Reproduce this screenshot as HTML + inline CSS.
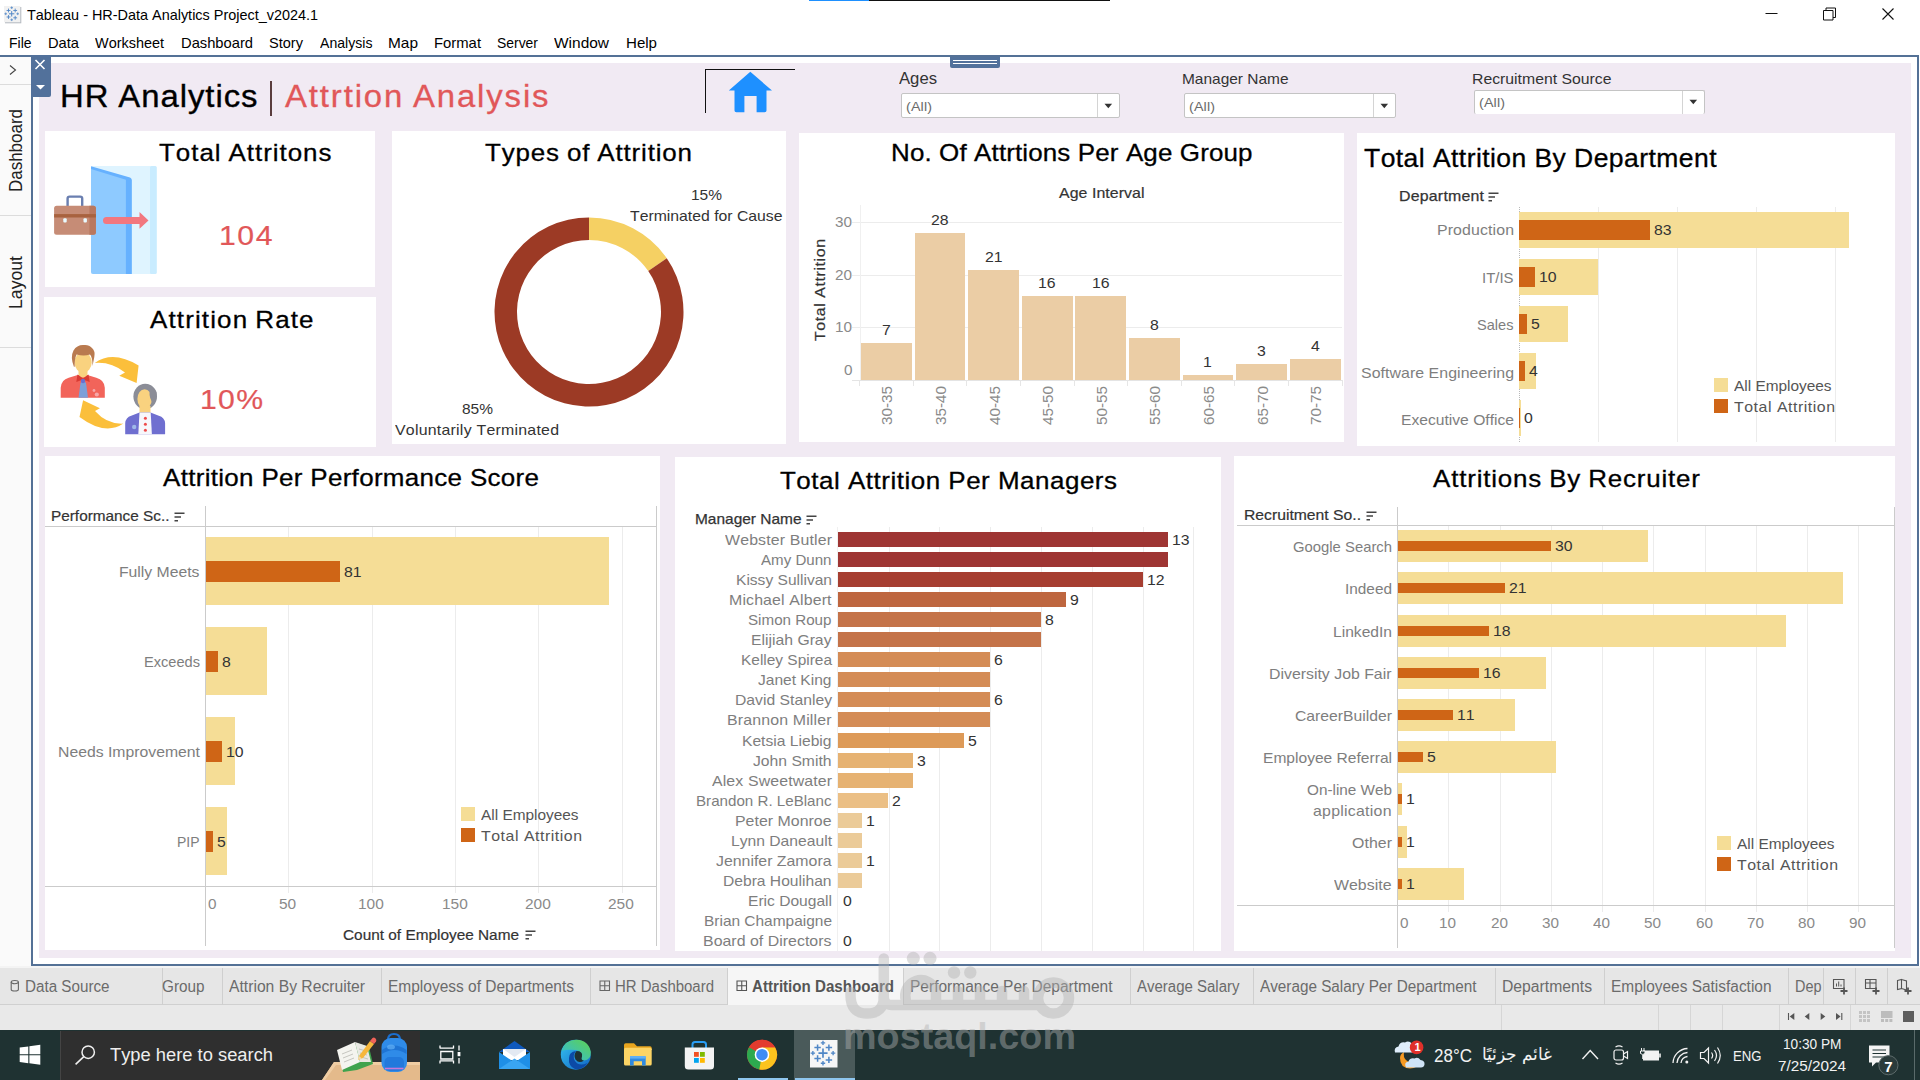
<!DOCTYPE html>
<html><head><meta charset="utf-8"><title>Tableau - HR-Data Analytics Project_v2024.1</title>
<style>
html,body{margin:0;padding:0;}
body{width:1920px;height:1080px;overflow:hidden;background:#fff;position:relative;font-family:"Liberation Sans",sans-serif;}
#r{position:absolute;left:0;top:0;width:1920px;height:1080px;overflow:hidden;}
#r div,#r svg,#r span.t{position:absolute;}
#r span.t{white-space:pre;line-height:1;transform-origin:0 0;font-kerning:none;}
</style></head><body><div id="r">
<span class="t" style="left:27.00px;top:7.30px;font-size:15px;color:#000;transform:scaleX(0.9615);">Tableau - HR-Data Analytics Project_v2024.1</span>
<div style="left:809px;top:0px;width:60px;height:1px;background:#1e90ff;"></div>
<div style="left:869px;top:0px;width:241px;height:1px;background:#111;"></div>
<svg style="left:1760px;top:4px;" width="140" height="22" viewBox="0 0 140 22"><path d="M5.5 9.5h12" stroke="#111" stroke-width="1" fill="none"/><path d="M63.5 6.5h9.5v9.5h-9.5z M66 6.5v-2.5h9.5v9.5h-2.5" stroke="#111" stroke-width="1" fill="none"/><path d="M122.5 4.5l11 11m0-11l-11 11" stroke="#111" stroke-width="1.1" fill="none"/></svg>
<span class="t" style="left:8.50px;top:35.30px;font-size:15px;color:#000;transform:scaleX(0.9309);">File</span>
<span class="t" style="left:47.50px;top:35.30px;font-size:15px;color:#000;transform:scaleX(0.9784);">Data</span>
<span class="t" style="left:95.00px;top:35.30px;font-size:15px;color:#000;transform:scaleX(0.9625);">Worksheet</span>
<span class="t" style="left:180.50px;top:35.30px;font-size:15px;color:#000;transform:scaleX(0.9812);">Dashboard</span>
<span class="t" style="left:269.00px;top:35.30px;font-size:15px;color:#000;transform:scaleX(0.9711);">Story</span>
<span class="t" style="left:319.50px;top:35.30px;font-size:15px;color:#000;transform:scaleX(0.9399);">Analysis</span>
<span class="t" style="left:388.00px;top:35.30px;font-size:15px;color:#000;transform:scaleX(1.0281);">Map</span>
<span class="t" style="left:434.00px;top:35.30px;font-size:15px;color:#000;transform:scaleX(0.9894);">Format</span>
<span class="t" style="left:497.00px;top:35.30px;font-size:15px;color:#000;transform:scaleX(0.9280);">Server</span>
<span class="t" style="left:554.00px;top:35.30px;font-size:15px;color:#000;transform:scaleX(1.0309);">Window</span>
<span class="t" style="left:625.50px;top:35.30px;font-size:15px;color:#000;transform:scaleX(1.0048);">Help</span>
<div style="left:0px;top:55px;width:1919px;height:2px;background:#547196;"></div>
<div style="left:31px;top:55px;width:2px;height:911px;background:#547196;"></div>
<div style="left:1917px;top:56px;width:2px;height:910px;background:#547196;"></div>
<div style="left:31px;top:964px;width:1888px;height:2px;background:#547196;"></div>
<div style="left:0px;top:57px;width:31px;height:909px;background:#fafafa;"></div>
<div style="left:0px;top:84px;width:31px;height:1px;background:#dcdcdc;"></div>
<div style="left:0px;top:214.5px;width:31px;height:1px;background:#dcdcdc;"></div>
<div style="left:0px;top:347px;width:31px;height:1px;background:#dcdcdc;"></div>
<svg style="left:7px;top:63px;" width="12" height="14" viewBox="0 0 12 14"><path d="M3 2.5l5.5 4.5l-5.5 4.5" stroke="#444" stroke-width="1.1" fill="none"/></svg>
<span class="t" style="left:7.69px;top:192.00px;font-size:17.5px;color:#222;transform:rotate(-90deg) scaleX(0.9695);">Dashboard</span>
<span class="t" style="left:7.69px;top:308.50px;font-size:17.5px;color:#222;transform:rotate(-90deg) scaleX(1.0087);">Layout</span>
<div style="left:39px;top:63px;width:1872px;height:895px;background:#f1eaf3;"></div>
<div style="left:31px;top:55px;width:20px;height:41.5px;background:#52719b;border-radius:0 0 2px 0;"></div>
<svg style="left:33px;top:57px;" width="16" height="38" viewBox="0 0 16 38"><path d="M2.5 3l9 9m0-9l-9 9" stroke="#fff" stroke-width="1.6" fill="none"/><path d="M3 28h9l-4.5 4.5z" fill="#fff"/></svg>
<div style="left:950px;top:57px;width:50px;height:11px;background:#52719b;border-radius:0 0 2px 2px;"></div>
<div style="left:953px;top:60px;width:44px;height:1.2px;background:#fff;"></div>
<div style="left:953px;top:63.3px;width:44px;height:1.2px;background:#fff;"></div>
<div style="left:0px;top:966px;width:1920px;height:39px;background:#e6e6e6;"></div>
<div style="left:0px;top:966px;width:1920px;height:1.5px;background:#f4f4f4;"></div>
<div style="left:0px;top:1004px;width:1920px;height:1px;background:#d0d0d0;"></div>
<div style="left:0px;top:1005px;width:1920px;height:25px;background:#e9e9e9;"></div>
<div style="left:728px;top:968px;width:175px;height:36.5px;background:#f6f6f6;"></div>
<div style="left:162px;top:968px;width:1px;height:36.5px;background:#cfcfcf;"></div>
<div style="left:222px;top:968px;width:1px;height:36.5px;background:#cfcfcf;"></div>
<div style="left:381px;top:968px;width:1px;height:36.5px;background:#cfcfcf;"></div>
<div style="left:590px;top:968px;width:1px;height:36.5px;background:#cfcfcf;"></div>
<div style="left:727px;top:968px;width:1px;height:36.5px;background:#cfcfcf;"></div>
<div style="left:903px;top:968px;width:1px;height:36.5px;background:#cfcfcf;"></div>
<div style="left:1130px;top:968px;width:1px;height:36.5px;background:#cfcfcf;"></div>
<div style="left:1253px;top:968px;width:1px;height:36.5px;background:#cfcfcf;"></div>
<div style="left:1495px;top:968px;width:1px;height:36.5px;background:#cfcfcf;"></div>
<div style="left:1604px;top:968px;width:1px;height:36.5px;background:#cfcfcf;"></div>
<div style="left:1788px;top:968px;width:1px;height:36.5px;background:#cfcfcf;"></div>
<div style="left:1823px;top:968px;width:1px;height:36.5px;background:#cfcfcf;"></div>
<div style="left:1855px;top:968px;width:1px;height:36.5px;background:#cfcfcf;"></div>
<div style="left:1887px;top:968px;width:1px;height:36.5px;background:#cfcfcf;"></div>
<span class="t" style="left:24.50px;top:979.46px;font-size:16px;color:#6b6b6b;transform:scaleX(0.9501);">Data Source</span>
<span class="t" style="left:162.00px;top:979.46px;font-size:16px;color:#6b6b6b;transform:scaleX(0.9557);">Group</span>
<span class="t" style="left:229.00px;top:979.46px;font-size:16px;color:#6b6b6b;transform:scaleX(0.9804);">Attrion By Recruiter</span>
<span class="t" style="left:387.50px;top:979.46px;font-size:16px;color:#6b6b6b;transform:scaleX(0.9683);">Employess of Departments</span>
<span class="t" style="left:615.00px;top:979.46px;font-size:16px;color:#6b6b6b;transform:scaleX(0.9355);">HR Dashboard</span>
<span class="t" style="left:910.00px;top:979.46px;font-size:16px;color:#6b6b6b;transform:scaleX(0.9690);">Performance Per Department</span>
<span class="t" style="left:1137.00px;top:979.46px;font-size:16px;color:#6b6b6b;transform:scaleX(0.9370);">Average Salary</span>
<span class="t" style="left:1260.00px;top:979.46px;font-size:16px;color:#6b6b6b;transform:scaleX(0.9547);">Average Salary Per Department</span>
<span class="t" style="left:1502.00px;top:979.46px;font-size:16px;color:#6b6b6b;transform:scaleX(0.9826);">Departments</span>
<span class="t" style="left:1611.00px;top:979.46px;font-size:16px;color:#6b6b6b;transform:scaleX(0.9651);">Employees Satisfaction</span>
<span class="t" style="left:1795.00px;top:979.46px;font-size:16px;color:#6b6b6b;transform:scaleX(0.9028);">Dep</span>
<span class="t" style="left:752.00px;top:978.96px;font-size:16px;color:#555;transform:scaleX(0.9453);font-weight:bold;">Attrition Dashboard</span>
<svg style="left:10px;top:979px;" width="11" height="14" viewBox="0 0 11 14"><path d="M1.2 3.1v7.3a3.6 1.6 0 0 0 7.2 0v-7.3" fill="none" stroke="#666" stroke-width="1.1"/><ellipse cx="4.8" cy="3.1" rx="3.6" ry="1.6" fill="none" stroke="#666" stroke-width="1.1"/></svg>
<svg style="left:598.5px;top:980px;" width="12" height="12" viewBox="0 0 12 12"><path d="M1 1h9.5v9.5h-9.5z M5.75 1v9.5 M1 5.75h9.5" fill="none" stroke="#666" stroke-width="1.1"/></svg>
<svg style="left:736px;top:980px;" width="12" height="12" viewBox="0 0 12 12"><path d="M1 1h9.5v9.5h-9.5z M5.75 1v9.5 M1 5.75h9.5" fill="none" stroke="#555" stroke-width="1.1"/></svg>
<svg style="left:1832px;top:978px;" width="18" height="18" viewBox="0 0 18 18"><path d="M1.5 1.5h10.5v9h-10.5z" fill="none" stroke="#555" stroke-width="1.1"/><path d="M4.5 8.5v-3 M6.7 8.5v-5 M9 8.5v-2" stroke="#555" stroke-width="1"/><path d="M8.5 13h7 M12 9.5v7" stroke="#555" stroke-width="1.8"/></svg>
<svg style="left:1864px;top:978px;" width="18" height="18" viewBox="0 0 18 18"><path d="M1.5 1.5h10.5v9h-10.5z M1.5 5h10.5 M6 1.5v9" fill="none" stroke="#555" stroke-width="1.1"/><path d="M8.5 13h7 M12 9.5v7" stroke="#555" stroke-width="1.8"/></svg>
<svg style="left:1896px;top:978px;" width="18" height="18" viewBox="0 0 18 18"><path d="M1.5 2.5l4-1v9l-4 1z M5.5 1.5l5 1.5v9l-5-1.5" fill="none" stroke="#555" stroke-width="1.1"/><path d="M8.5 13h7 M12 9.5v7" stroke="#555" stroke-width="1.8"/></svg>
<div style="left:1501px;top:1005px;width:1px;height:25px;background:#d6d6d6;"></div>
<div style="left:1658px;top:1005px;width:1px;height:25px;background:#d6d6d6;"></div>
<div style="left:1690px;top:1005px;width:1px;height:25px;background:#d6d6d6;"></div>
<div style="left:1722px;top:1005px;width:1px;height:25px;background:#d6d6d6;"></div>
<div style="left:1779px;top:1005px;width:1px;height:25px;background:#d6d6d6;"></div>
<div style="left:1850px;top:1005px;width:1px;height:25px;background:#d6d6d6;"></div>
<svg style="left:1786px;top:1011px;" width="60" height="12" viewBox="0 0 60 12"><path d="M2.5 2v7" stroke="#555" stroke-width="1.1"/><path d="M8.3 2v7l-4.6-3.5z" fill="#555"/><path d="M23.3 2v7l-4.6-3.5z" fill="#555"/><path d="M34.7 2v7l4.6-3.5z" fill="#555"/><path d="M55.8 2v7" stroke="#555" stroke-width="1.1"/><path d="M50 2v7l4.6-3.5z" fill="#555"/></svg>
<svg style="left:1859px;top:1011px;" width="11" height="11" viewBox="0 0 11 11"><rect x="0" y="0" width="3" height="3" fill="#c4c4c4"/><rect x="0" y="4" width="3" height="3" fill="#c4c4c4"/><rect x="0" y="8" width="3" height="3" fill="#c4c4c4"/><rect x="4" y="0" width="3" height="3" fill="#c4c4c4"/><rect x="4" y="4" width="3" height="3" fill="#c4c4c4"/><rect x="4" y="8" width="3" height="3" fill="#c4c4c4"/><rect x="8" y="0" width="3" height="3" fill="#c4c4c4"/><rect x="8" y="4" width="3" height="3" fill="#c4c4c4"/><rect x="8" y="8" width="3" height="3" fill="#c4c4c4"/></svg>
<svg style="left:1880.5px;top:1011px;" width="12" height="11" viewBox="0 0 12 11"><rect x="0" y="0" width="11.5" height="7" fill="#bdbdbd"/><rect x="0" y="8" width="3" height="3" fill="#bdbdbd"/><rect x="4.2" y="8" width="3" height="3" fill="#bdbdbd"/><rect x="8.4" y="8" width="3" height="3" fill="#bdbdbd"/></svg>
<div style="left:1903px;top:1011px;width:11px;height:11px;background:#5e5e5e;"></div>
<div style="left:0px;top:1030px;width:1920px;height:50px;background:#1f3232;"></div>
<div style="left:60px;top:1031px;width:359px;height:49px;background:#2f2f2f;border-left:1px solid #444;"></div>
<span class="t" style="left:110.00px;top:1045.76px;font-size:18px;color:#eee;transform:scaleX(1.0182);">Type here to search</span>
<div style="left:1914px;top:1030px;width:1px;height:50px;background:#5a6a6a;"></div>
<span class="t" style="left:1434.00px;top:1046.76px;font-size:18px;color:#f2f2f2;transform:scaleX(0.9448);">28°C</span>
<span class="t" style="left:1733.00px;top:1047.88px;font-size:15.5px;color:#f2f2f2;transform:scaleX(0.8485);">ENG</span>
<span class="t" style="left:1783.00px;top:1035.88px;font-size:15.5px;color:#f2f2f2;transform:scaleX(0.8818);">10:30 PM</span>
<span class="t" style="left:1778.00px;top:1058.38px;font-size:15.5px;color:#f2f2f2;transform:scaleX(0.9861);">7/25/2024</span>
<span class="t" style="left:60.00px;top:81.26px;font-size:31px;color:#000;transform:scaleX(1.0600);letter-spacing:0.903px;word-spacing:-1.050px;-webkit-text-stroke:0.35px #000;">HR Analytics</span>
<div style="left:270px;top:81px;width:2px;height:34.5px;background:#5a3d3d;"></div>
<span class="t" style="left:285.00px;top:81.26px;font-size:31px;color:#e15759;transform:scaleX(1.0600);letter-spacing:1.779px;word-spacing:-2.139px;-webkit-text-stroke:0.3px #e15759;">Attrtion Analysis</span>
<div style="left:705px;top:69px;width:1px;height:44px;background:#111;"></div>
<div style="left:705px;top:69px;width:89.5px;height:1px;background:#111;"></div>
<svg style="left:728px;top:70.5px;" width="45" height="42" viewBox="0 0 45 42"><path d="M22.3 0.8 L44 19.5 L38.5 19.5 L38.5 39.5 Q38.5 41.3 36.7 41.3 L28.6 41.3 L28.6 25 L16.4 25 L16.4 41.3 L8.3 41.3 Q6.5 41.3 6.5 39.5 L6.5 19.5 L0.8 19.5 Z" fill="#1e90ff"/></svg>
<span class="t" style="left:899.00px;top:70.03px;font-size:16.5px;color:#333;transform:scaleX(1.0104);">Ages</span>
<div style="left:901px;top:93px;width:217px;height:23px;background:#fff;border:1px solid #c4c4c4;border-radius:2px;"></div>
<div style="left:1097px;top:94px;width:1px;height:23px;background:#d4d4d4;"></div>
<svg style="left:1104px;top:102.7px;" width="9" height="6" viewBox="0 0 9 6"><path d="M0.5 0.8h7.6l-3.8 4.4z" fill="#333"/></svg>
<span class="t" style="left:905.50px;top:99.57px;font-size:13.5px;color:#6b6b6b;transform:scaleX(1.0600);letter-spacing:0.134px;">(All)</span>
<span class="t" style="left:1181.50px;top:71.30px;font-size:15px;color:#333;transform:scaleX(1.0302);">Manager Name</span>
<div style="left:1184px;top:93px;width:210px;height:23px;background:#fff;border:1px solid #c4c4c4;border-radius:2px;"></div>
<div style="left:1373px;top:94px;width:1px;height:23px;background:#d4d4d4;"></div>
<svg style="left:1380px;top:102.7px;" width="9" height="6" viewBox="0 0 9 6"><path d="M0.5 0.8h7.6l-3.8 4.4z" fill="#333"/></svg>
<span class="t" style="left:1188.50px;top:99.57px;font-size:13.5px;color:#6b6b6b;transform:scaleX(1.0600);letter-spacing:0.134px;">(All)</span>
<span class="t" style="left:1471.50px;top:71.30px;font-size:15px;color:#333;transform:scaleX(1.0524);">Recruitment Source</span>
<div style="left:1474px;top:90px;width:229px;height:22.5px;background:#fff;border:1px solid #c4c4c4;border-radius:2px;border-bottom:none;"></div>
<div style="left:1682px;top:91px;width:1px;height:22.5px;background:#d4d4d4;"></div>
<svg style="left:1689px;top:99.45px;" width="9" height="6" viewBox="0 0 9 6"><path d="M0.5 0.8h7.6l-3.8 4.4z" fill="#333"/></svg>
<span class="t" style="left:1478.50px;top:96.32px;font-size:13.5px;color:#6b6b6b;transform:scaleX(1.0600);letter-spacing:0.134px;">(All)</span>
<div style="left:45px;top:131px;width:330px;height:156px;background:#fff;"></div>
<div style="left:44px;top:297px;width:332px;height:150px;background:#fff;"></div>
<div style="left:392px;top:131px;width:394px;height:312.5px;background:#fff;"></div>
<div style="left:799px;top:132.5px;width:545px;height:309.5px;background:#fff;"></div>
<div style="left:1357px;top:133px;width:538px;height:312.5px;background:#fff;"></div>
<span class="t" style="left:159.00px;top:140.76px;font-size:24.5px;color:#000;transform:scaleX(1.0600);letter-spacing:0.905px;word-spacing:-1.077px;-webkit-text-stroke:0.3px #000;">Total Attritons</span>
<span class="t" style="left:218.50px;top:221.37px;font-size:28.5px;color:#e15759;transform:scaleX(1.0600);letter-spacing:1.458px;-webkit-text-stroke:0.2px #e15759;">104</span>
<span class="t" style="left:150.00px;top:308.26px;font-size:24.5px;color:#000;transform:scaleX(1.0600);letter-spacing:1.068px;word-spacing:-1.263px;-webkit-text-stroke:0.3px #000;">Attrition Rate</span>
<span class="t" style="left:200.00px;top:384.87px;font-size:28.5px;color:#e15759;transform:scaleX(1.0600);letter-spacing:1.195px;-webkit-text-stroke:0.2px #e15759;">10%</span>
<span class="t" style="left:485.00px;top:141.26px;font-size:24.5px;color:#000;transform:scaleX(1.0600);letter-spacing:0.777px;word-spacing:-0.876px;-webkit-text-stroke:0.3px #000;">Types of Attrition</span>
<span class="t" style="left:890.50px;top:140.76px;font-size:24.5px;color:#000;transform:scaleX(1.0600);letter-spacing:0.115px;-webkit-text-stroke:0.3px #000;">No. Of Attrtions Per Age Group</span>
<span class="t" style="left:1363.50px;top:145.84px;font-size:25px;color:#000;transform:scaleX(1.0600);letter-spacing:0.414px;-webkit-text-stroke:0.3px #000;">Total Attrition By Department</span>
<svg style="left:488.5px;top:212px;" width="200" height="200" viewBox="0 0 200 200"><path d="M100.00 5.50A94.5 94.5 0 0 1 177.79 46.34L159.27 59.12A72 72 0 0 0 100.00 28.00Z" fill="#f5d063"/><path d="M177.79 46.34A94.5 94.5 0 1 1 100.00 5.50L100.00 28.00A72 72 0 1 0 159.27 59.12Z" fill="#9c3a25"/></svg>
<span class="t" style="left:690.50px;top:187.30px;font-size:15px;color:#333;transform:scaleX(1.0325);">15%</span>
<span class="t" style="left:629.50px;top:208.30px;font-size:15px;color:#333;transform:scaleX(1.0513);">Terminated for Cause</span>
<span class="t" style="left:461.50px;top:401.30px;font-size:15px;color:#333;transform:scaleX(1.0325);">85%</span>
<span class="t" style="left:395.00px;top:422.30px;font-size:15px;color:#333;transform:scaleX(1.0600);letter-spacing:0.221px;">Voluntarily Terminated</span>
<span class="t" style="left:1059.00px;top:184.80px;font-size:15px;color:#333;transform:scaleX(1.0600);letter-spacing:0.056px;-webkit-text-stroke:0.2px #333;">Age Interval</span>
<span class="t" style="left:812.30px;top:341.00px;font-size:15px;color:#333;transform:rotate(-90deg) scaleX(1.0600);letter-spacing:0.561px;-webkit-text-stroke:0.2px #333;">Total Attrition</span>
<div style="left:852px;top:327px;width:490px;height:1px;background:#ececec;"></div>
<div style="left:852px;top:274.5px;width:490px;height:1px;background:#ececec;"></div>
<div style="left:852px;top:222px;width:490px;height:1px;background:#ececec;"></div>
<div style="left:860px;top:205px;width:1px;height:175px;background:#f0f0f0;"></div>
<div style="left:852px;top:379.5px;width:490px;height:1px;background:#e4e4e4;"></div>
<div style="left:859.2px;top:380px;width:1px;height:6px;background:#e6e6e6;"></div>
<div style="left:912.8px;top:380px;width:1px;height:6px;background:#e6e6e6;"></div>
<div style="left:966.4px;top:380px;width:1px;height:6px;background:#e6e6e6;"></div>
<div style="left:1020px;top:380px;width:1px;height:6px;background:#e6e6e6;"></div>
<div style="left:1073.6px;top:380px;width:1px;height:6px;background:#e6e6e6;"></div>
<div style="left:1127.2px;top:380px;width:1px;height:6px;background:#e6e6e6;"></div>
<div style="left:1180.8px;top:380px;width:1px;height:6px;background:#e6e6e6;"></div>
<div style="left:1234.4px;top:380px;width:1px;height:6px;background:#e6e6e6;"></div>
<div style="left:1288px;top:380px;width:1px;height:6px;background:#e6e6e6;"></div>
<div style="left:1341.6px;top:380px;width:1px;height:6px;background:#e6e6e6;"></div>
<span class="t" style="left:843.99px;top:361.60px;font-size:15px;color:#8a8a8a;transform:scaleX(1.0200);">0</span>
<span class="t" style="left:835.48px;top:319.10px;font-size:15px;color:#8a8a8a;transform:scaleX(1.0200);">10</span>
<span class="t" style="left:835.48px;top:266.60px;font-size:15px;color:#8a8a8a;transform:scaleX(1.0200);">20</span>
<span class="t" style="left:835.48px;top:214.10px;font-size:15px;color:#8a8a8a;transform:scaleX(1.0200);">30</span>
<div style="left:861px;top:343.25px;width:50.8px;height:36.75px;background:#ebcda5;"></div>
<span class="t" style="left:881.70px;top:322.33px;font-size:15.5px;color:#333;transform:scaleX(1.0200);">7</span>
<span class="t" style="left:879.38px;top:424.50px;font-size:15.5px;color:#8a8a8a;transform:rotate(-90deg) scaleX(0.9838);">30-35</span>
<div style="left:914.6px;top:233px;width:50.8px;height:147px;background:#ebcda5;"></div>
<span class="t" style="left:930.91px;top:212.08px;font-size:15.5px;color:#333;transform:scaleX(1.0200);">28</span>
<span class="t" style="left:932.98px;top:424.50px;font-size:15.5px;color:#8a8a8a;transform:rotate(-90deg) scaleX(0.9838);">35-40</span>
<div style="left:968.2px;top:269.75px;width:50.8px;height:110.25px;background:#ebcda5;"></div>
<span class="t" style="left:984.51px;top:248.83px;font-size:15.5px;color:#333;transform:scaleX(1.0200);">21</span>
<span class="t" style="left:986.58px;top:424.50px;font-size:15.5px;color:#8a8a8a;transform:rotate(-90deg) scaleX(0.9838);">40-45</span>
<div style="left:1021.8px;top:296px;width:50.8px;height:84px;background:#ebcda5;"></div>
<span class="t" style="left:1038.11px;top:275.08px;font-size:15.5px;color:#333;transform:scaleX(1.0200);">16</span>
<span class="t" style="left:1040.18px;top:424.50px;font-size:15.5px;color:#8a8a8a;transform:rotate(-90deg) scaleX(0.9838);">45-50</span>
<div style="left:1075.4px;top:296px;width:50.8px;height:84px;background:#ebcda5;"></div>
<span class="t" style="left:1091.71px;top:275.08px;font-size:15.5px;color:#333;transform:scaleX(1.0200);">16</span>
<span class="t" style="left:1093.78px;top:424.50px;font-size:15.5px;color:#8a8a8a;transform:rotate(-90deg) scaleX(0.9838);">50-55</span>
<div style="left:1129px;top:338px;width:50.8px;height:42px;background:#ebcda5;"></div>
<span class="t" style="left:1149.70px;top:317.08px;font-size:15.5px;color:#333;transform:scaleX(1.0200);">8</span>
<span class="t" style="left:1147.38px;top:424.50px;font-size:15.5px;color:#8a8a8a;transform:rotate(-90deg) scaleX(0.9838);">55-60</span>
<div style="left:1182.6px;top:374.75px;width:50.8px;height:5.25px;background:#ebcda5;"></div>
<span class="t" style="left:1203.30px;top:353.83px;font-size:15.5px;color:#333;transform:scaleX(1.0200);">1</span>
<span class="t" style="left:1200.98px;top:424.50px;font-size:15.5px;color:#8a8a8a;transform:rotate(-90deg) scaleX(0.9838);">60-65</span>
<div style="left:1236.2px;top:364.25px;width:50.8px;height:15.75px;background:#ebcda5;"></div>
<span class="t" style="left:1256.90px;top:343.33px;font-size:15.5px;color:#333;transform:scaleX(1.0200);">3</span>
<span class="t" style="left:1254.58px;top:424.50px;font-size:15.5px;color:#8a8a8a;transform:rotate(-90deg) scaleX(0.9838);">65-70</span>
<div style="left:1289.8px;top:359px;width:50.8px;height:21px;background:#ebcda5;"></div>
<span class="t" style="left:1310.50px;top:338.08px;font-size:15.5px;color:#333;transform:scaleX(1.0200);">4</span>
<span class="t" style="left:1308.18px;top:424.50px;font-size:15.5px;color:#8a8a8a;transform:rotate(-90deg) scaleX(0.9838);">70-75</span>
<span class="t" style="left:1398.50px;top:188.30px;font-size:15px;color:#333;transform:scaleX(1.0600);letter-spacing:0.202px;-webkit-text-stroke:0.25px #333;">Department</span>
<svg style="left:1488px;top:192px;" width="11" height="10" viewBox="0 0 11 10"><path d="M0.5 1.2h10 M0.5 5h6.5 M0.5 8.8h3.5" stroke="#444" stroke-width="1.6" fill="none"/></svg>
<div style="left:1597.5px;top:206.5px;width:1px;height:235px;background:#ececec;"></div>
<div style="left:1676.5px;top:206.5px;width:1px;height:235px;background:#ececec;"></div>
<div style="left:1755.5px;top:206.5px;width:1px;height:235px;background:#ececec;"></div>
<div style="left:1834.5px;top:206.5px;width:1px;height:235px;background:#ececec;"></div>
<div style="left:1519px;top:206.5px;width:1px;height:235px;background:transparent;border-left:1px dotted #b8b8b8;"></div>
<div style="left:1519px;top:212px;width:330.22px;height:36px;background:#f5dd96;"></div>
<div style="left:1519px;top:220px;width:131.14px;height:20px;background:#cf6516;"></div>
<span class="t" style="left:1436.50px;top:222.30px;font-size:15px;color:#7e7e7e;transform:scaleX(1.0600);letter-spacing:0.103px;">Production</span>
<span class="t" style="left:1654.14px;top:221.68px;font-size:15.5px;color:#333;transform:scaleX(1.0200);">83</span>
<div style="left:1519px;top:259px;width:79px;height:36px;background:#f5dd96;"></div>
<div style="left:1519px;top:267px;width:15.8px;height:20px;background:#cf6516;"></div>
<span class="t" style="left:1482.00px;top:269.60px;font-size:15px;color:#7e7e7e;transform:scaleX(0.9946);">IT/IS</span>
<span class="t" style="left:1538.80px;top:268.68px;font-size:15.5px;color:#333;transform:scaleX(1.0200);">10</span>
<div style="left:1519px;top:306px;width:48.98px;height:36px;background:#f5dd96;"></div>
<div style="left:1519px;top:314px;width:7.9px;height:20px;background:#cf6516;"></div>
<span class="t" style="left:1477.00px;top:317.10px;font-size:15px;color:#7e7e7e;transform:scaleX(0.9727);">Sales</span>
<span class="t" style="left:1530.90px;top:315.68px;font-size:15.5px;color:#333;transform:scaleX(1.0200);">5</span>
<div style="left:1519px;top:353px;width:17.38px;height:36px;background:#f5dd96;"></div>
<div style="left:1519px;top:361px;width:6.32px;height:20px;background:#cf6516;"></div>
<span class="t" style="left:1360.50px;top:365.10px;font-size:15px;color:#7e7e7e;transform:scaleX(1.0600);letter-spacing:0.048px;">Software Engineering</span>
<span class="t" style="left:1529.32px;top:362.68px;font-size:15.5px;color:#333;transform:scaleX(1.0200);">4</span>
<div style="left:1519px;top:400px;width:2px;height:36px;background:#f5dd96;"></div>
<div style="left:1519px;top:408px;width:1.2px;height:20px;background:#cf6516;"></div>
<span class="t" style="left:1400.50px;top:412.30px;font-size:15px;color:#7e7e7e;transform:scaleX(1.0427);">Executive Office</span>
<span class="t" style="left:1524.20px;top:409.68px;font-size:15.5px;color:#333;transform:scaleX(1.0200);">0</span>
<div style="left:1714px;top:378px;width:14px;height:14px;background:#f5dd96;"></div>
<div style="left:1714px;top:399px;width:14px;height:14px;background:#cf6516;"></div>
<span class="t" style="left:1733.50px;top:378.30px;font-size:15px;color:#555;transform:scaleX(1.0259);">All Employees</span>
<span class="t" style="left:1733.50px;top:399.30px;font-size:15px;color:#555;transform:scaleX(1.0600);letter-spacing:0.494px;">Total Attrition</span>
<div style="left:45px;top:456px;width:615px;height:494px;background:#fff;"></div>
<div style="left:675px;top:457px;width:546px;height:493.5px;background:#fff;"></div>
<div style="left:1234px;top:456px;width:661px;height:494.5px;background:#fff;"></div>
<span class="t" style="left:163.00px;top:465.76px;font-size:24.5px;color:#000;transform:scaleX(1.0600);letter-spacing:0.295px;-webkit-text-stroke:0.3px #000;">Attrition Per Performance Score</span>
<span class="t" style="left:779.50px;top:468.76px;font-size:24.5px;color:#000;transform:scaleX(1.0600);letter-spacing:0.478px;-webkit-text-stroke:0.3px #000;">Total Attrition Per Managers</span>
<span class="t" style="left:1433.00px;top:466.76px;font-size:24.5px;color:#000;transform:scaleX(1.0600);letter-spacing:0.762px;word-spacing:-0.885px;-webkit-text-stroke:0.3px #000;">Attritions By Recruiter</span>
<span class="t" style="left:51.00px;top:508.30px;font-size:15px;color:#333;transform:scaleX(1.0226);-webkit-text-stroke:0.2px #333;">Performance Sc..</span>
<svg style="left:174px;top:512px;" width="11" height="10" viewBox="0 0 11 10"><path d="M0.5 1.2h10 M0.5 5h6.5 M0.5 8.8h3.5" stroke="#444" stroke-width="1.6" fill="none"/></svg>
<div style="left:288.3px;top:527px;width:1px;height:366px;background:#ececec;"></div>
<div style="left:371.6px;top:527px;width:1px;height:366px;background:#ececec;"></div>
<div style="left:454.9px;top:527px;width:1px;height:366px;background:#ececec;"></div>
<div style="left:538.2px;top:527px;width:1px;height:366px;background:#ececec;"></div>
<div style="left:621.5px;top:527px;width:1px;height:366px;background:#ececec;"></div>
<div style="left:45px;top:526px;width:612px;height:1px;background:#cbcbcb;"></div>
<div style="left:205px;top:506px;width:1px;height:440px;background:#cbcbcb;"></div>
<div style="left:656px;top:506px;width:1px;height:440px;background:#cbcbcb;"></div>
<div style="left:45px;top:885.5px;width:612px;height:1px;background:#cbcbcb;"></div>
<div style="left:206px;top:537px;width:403px;height:68px;background:#f5dd96;"></div>
<div style="left:206px;top:561px;width:134px;height:21px;background:#cf6516;"></div>
<span class="t" style="left:119.30px;top:564.30px;font-size:15px;color:#7e7e7e;transform:scaleX(1.0497);">Fully Meets</span>
<span class="t" style="left:343.60px;top:563.88px;font-size:15.5px;color:#333;transform:scaleX(1.0200);">81</span>
<div style="left:206px;top:627px;width:61px;height:68px;background:#f5dd96;"></div>
<div style="left:206px;top:651px;width:12px;height:21px;background:#cf6516;"></div>
<span class="t" style="left:143.80px;top:654.30px;font-size:15px;color:#7e7e7e;transform:scaleX(0.9734);">Exceeds</span>
<span class="t" style="left:221.60px;top:653.88px;font-size:15.5px;color:#333;transform:scaleX(1.0200);">8</span>
<div style="left:206px;top:717px;width:29px;height:68px;background:#f5dd96;"></div>
<div style="left:206px;top:741px;width:16px;height:21px;background:#cf6516;"></div>
<span class="t" style="left:57.80px;top:744.30px;font-size:15px;color:#7e7e7e;transform:scaleX(1.0514);">Needs Improvement</span>
<span class="t" style="left:225.60px;top:743.88px;font-size:15.5px;color:#333;transform:scaleX(1.0200);">10</span>
<div style="left:206px;top:807px;width:21px;height:68px;background:#f5dd96;"></div>
<div style="left:206px;top:831px;width:7px;height:21px;background:#cf6516;"></div>
<span class="t" style="left:177.30px;top:834.30px;font-size:15px;color:#7e7e7e;transform:scaleX(0.9306);">PIP</span>
<span class="t" style="left:216.60px;top:833.88px;font-size:15.5px;color:#333;transform:scaleX(1.0200);">5</span>
<span class="t" style="left:208.00px;top:896.30px;font-size:15px;color:#8a8a8a;transform:scaleX(1.0200);">0</span>
<span class="t" style="left:279.41px;top:896.30px;font-size:15px;color:#8a8a8a;transform:scaleX(1.0300);">50</span>
<span class="t" style="left:358.41px;top:896.30px;font-size:15px;color:#8a8a8a;transform:scaleX(1.0300);">100</span>
<span class="t" style="left:441.71px;top:896.30px;font-size:15px;color:#8a8a8a;transform:scaleX(1.0300);">150</span>
<span class="t" style="left:525.01px;top:896.30px;font-size:15px;color:#8a8a8a;transform:scaleX(1.0300);">200</span>
<span class="t" style="left:608.31px;top:896.30px;font-size:15px;color:#8a8a8a;transform:scaleX(1.0300);">250</span>
<span class="t" style="left:342.50px;top:927.30px;font-size:15px;color:#333;transform:scaleX(1.0247);-webkit-text-stroke:0.2px #333;">Count of Employee Name</span>
<svg style="left:525px;top:930px;" width="11" height="10" viewBox="0 0 11 10"><path d="M0.5 1.2h10 M0.5 5h6.5 M0.5 8.8h3.5" stroke="#444" stroke-width="1.6" fill="none"/></svg>
<div style="left:461px;top:807px;width:14px;height:14px;background:#f5dd96;"></div>
<div style="left:461px;top:828px;width:14px;height:14px;background:#cf6516;"></div>
<span class="t" style="left:480.50px;top:807.30px;font-size:15px;color:#555;transform:scaleX(1.0259);">All Employees</span>
<span class="t" style="left:480.50px;top:828.30px;font-size:15px;color:#555;transform:scaleX(1.0600);letter-spacing:0.494px;">Total Attrition</span>
<span class="t" style="left:695.00px;top:511.30px;font-size:15px;color:#333;transform:scaleX(1.0302);-webkit-text-stroke:0.25px #333;">Manager Name</span>
<svg style="left:806px;top:515px;" width="11" height="10" viewBox="0 0 11 10"><path d="M0.5 1.2h10 M0.5 5h6.5 M0.5 8.8h3.5" stroke="#444" stroke-width="1.6" fill="none"/></svg>
<div style="left:888.5px;top:527px;width:1px;height:423.5px;background:#ececec;"></div>
<div style="left:939.3px;top:527px;width:1px;height:423.5px;background:#ececec;"></div>
<div style="left:990.1px;top:527px;width:1px;height:423.5px;background:#ececec;"></div>
<div style="left:1040.9px;top:527px;width:1px;height:423.5px;background:#ececec;"></div>
<div style="left:1091.7px;top:527px;width:1px;height:423.5px;background:#ececec;"></div>
<div style="left:1142.5px;top:527px;width:1px;height:423.5px;background:#ececec;"></div>
<div style="left:1193.3px;top:527px;width:1px;height:423.5px;background:#ececec;"></div>
<div style="left:837px;top:527px;width:1px;height:423.5px;background:#f0f0f0;"></div>
<div style="left:838px;top:532px;width:330px;height:15px;background:#9e3533;"></div>
<span class="t" style="left:724.80px;top:531.90px;font-size:15px;color:#7e7e7e;transform:scaleX(1.0600);letter-spacing:0.134px;">Webster Butler</span>
<span class="t" style="left:1172.00px;top:531.88px;font-size:15.5px;color:#333;transform:scaleX(1.0200);">13</span>
<div style="left:838px;top:552px;width:330px;height:15px;background:#9e3533;"></div>
<span class="t" style="left:761.30px;top:551.90px;font-size:15px;color:#7e7e7e;transform:scaleX(1.0067);">Amy Dunn</span>
<div style="left:838px;top:572px;width:305px;height:15px;background:#a63e31;"></div>
<span class="t" style="left:735.80px;top:571.90px;font-size:15px;color:#7e7e7e;transform:scaleX(1.0374);">Kissy Sullivan</span>
<span class="t" style="left:1147.00px;top:571.88px;font-size:15.5px;color:#333;transform:scaleX(1.0200);">12</span>
<div style="left:838px;top:592px;width:228px;height:15px;background:#be663f;"></div>
<span class="t" style="left:729.30px;top:591.90px;font-size:15px;color:#7e7e7e;transform:scaleX(1.0600);letter-spacing:0.128px;">Michael Albert</span>
<span class="t" style="left:1070.00px;top:591.88px;font-size:15.5px;color:#333;transform:scaleX(1.0200);">9</span>
<div style="left:838px;top:612px;width:203px;height:15px;background:#c47349;"></div>
<span class="t" style="left:748.30px;top:611.90px;font-size:15px;color:#7e7e7e;transform:scaleX(1.0116);">Simon Roup</span>
<span class="t" style="left:1045.00px;top:611.88px;font-size:15.5px;color:#333;transform:scaleX(1.0200);">8</span>
<div style="left:838px;top:632px;width:203px;height:15px;background:#c47349;"></div>
<span class="t" style="left:751.30px;top:631.90px;font-size:15px;color:#7e7e7e;transform:scaleX(1.0497);">Elijiah Gray</span>
<div style="left:838px;top:652px;width:152px;height:15px;background:#d48c56;"></div>
<span class="t" style="left:740.80px;top:651.90px;font-size:15px;color:#7e7e7e;transform:scaleX(1.0296);">Kelley Spirea</span>
<span class="t" style="left:994.00px;top:651.88px;font-size:15.5px;color:#333;transform:scaleX(1.0200);">6</span>
<div style="left:838px;top:672px;width:152px;height:15px;background:#d48c56;"></div>
<span class="t" style="left:758.30px;top:671.90px;font-size:15px;color:#7e7e7e;transform:scaleX(1.0369);">Janet King</span>
<div style="left:838px;top:692px;width:152px;height:15px;background:#d48c56;"></div>
<span class="t" style="left:734.80px;top:691.90px;font-size:15px;color:#7e7e7e;transform:scaleX(1.0481);">David Stanley</span>
<span class="t" style="left:994.00px;top:691.88px;font-size:15.5px;color:#333;transform:scaleX(1.0200);">6</span>
<div style="left:838px;top:712px;width:152px;height:15px;background:#d48c56;"></div>
<span class="t" style="left:727.30px;top:711.90px;font-size:15px;color:#7e7e7e;transform:scaleX(1.0600);letter-spacing:0.144px;">Brannon Miller</span>
<div style="left:838px;top:733px;width:126px;height:15px;background:#dd9a58;"></div>
<span class="t" style="left:742.30px;top:732.90px;font-size:15px;color:#7e7e7e;transform:scaleX(1.0420);">Ketsia Liebig</span>
<span class="t" style="left:968.00px;top:732.88px;font-size:15.5px;color:#333;transform:scaleX(1.0200);">5</span>
<div style="left:838px;top:753px;width:75px;height:15px;background:#e6b272;"></div>
<span class="t" style="left:753.30px;top:752.90px;font-size:15px;color:#7e7e7e;transform:scaleX(1.0461);">John Smith</span>
<span class="t" style="left:917.00px;top:752.88px;font-size:15.5px;color:#333;transform:scaleX(1.0200);">3</span>
<div style="left:838px;top:773px;width:75px;height:15px;background:#e6b272;"></div>
<span class="t" style="left:711.80px;top:772.90px;font-size:15px;color:#7e7e7e;transform:scaleX(1.0600);letter-spacing:0.106px;">Alex Sweetwater</span>
<div style="left:838px;top:793px;width:50px;height:15px;background:#ebbf85;"></div>
<span class="t" style="left:696.30px;top:792.90px;font-size:15px;color:#7e7e7e;transform:scaleX(1.0093);">Brandon R. LeBlanc</span>
<span class="t" style="left:892.00px;top:792.88px;font-size:15.5px;color:#333;transform:scaleX(1.0200);">2</span>
<div style="left:838px;top:813px;width:24px;height:15px;background:#ebcb99;"></div>
<span class="t" style="left:735.30px;top:812.90px;font-size:15px;color:#7e7e7e;transform:scaleX(1.0600);letter-spacing:0.014px;">Peter Monroe</span>
<span class="t" style="left:866.00px;top:812.88px;font-size:15.5px;color:#333;transform:scaleX(1.0200);">1</span>
<div style="left:838px;top:833px;width:24px;height:15px;background:#ebcb99;"></div>
<span class="t" style="left:730.80px;top:832.90px;font-size:15px;color:#7e7e7e;transform:scaleX(1.0441);">Lynn Daneault</span>
<div style="left:838px;top:853px;width:24px;height:15px;background:#ebcb99;"></div>
<span class="t" style="left:716.30px;top:852.90px;font-size:15px;color:#7e7e7e;transform:scaleX(1.0576);">Jennifer Zamora</span>
<span class="t" style="left:866.00px;top:852.88px;font-size:15.5px;color:#333;transform:scaleX(1.0200);">1</span>
<div style="left:838px;top:873px;width:24px;height:15px;background:#ebcb99;"></div>
<span class="t" style="left:723.30px;top:872.90px;font-size:15px;color:#7e7e7e;transform:scaleX(1.0410);">Debra Houlihan</span>
<span class="t" style="left:747.80px;top:892.90px;font-size:15px;color:#7e7e7e;transform:scaleX(1.0387);">Eric Dougall</span>
<span class="t" style="left:843.30px;top:892.88px;font-size:15.5px;color:#333;transform:scaleX(1.0200);">0</span>
<span class="t" style="left:703.80px;top:912.90px;font-size:15px;color:#7e7e7e;transform:scaleX(1.0302);">Brian Champaigne</span>
<span class="t" style="left:703.30px;top:932.90px;font-size:15px;color:#7e7e7e;transform:scaleX(1.0600);letter-spacing:0.020px;">Board of Directors</span>
<span class="t" style="left:843.30px;top:932.88px;font-size:15.5px;color:#333;transform:scaleX(1.0200);">0</span>
<span class="t" style="left:1244.00px;top:507.30px;font-size:15px;color:#333;transform:scaleX(1.0474);-webkit-text-stroke:0.2px #333;">Recruitment So..</span>
<svg style="left:1366px;top:511px;" width="11" height="10" viewBox="0 0 11 10"><path d="M0.5 1.2h10 M0.5 5h6.5 M0.5 8.8h3.5" stroke="#444" stroke-width="1.6" fill="none"/></svg>
<div style="left:1448.25px;top:526px;width:1px;height:386px;background:#ececec;"></div>
<div style="left:1499.5px;top:526px;width:1px;height:386px;background:#ececec;"></div>
<div style="left:1550.75px;top:526px;width:1px;height:386px;background:#ececec;"></div>
<div style="left:1602px;top:526px;width:1px;height:386px;background:#ececec;"></div>
<div style="left:1653.25px;top:526px;width:1px;height:386px;background:#ececec;"></div>
<div style="left:1704.5px;top:526px;width:1px;height:386px;background:#ececec;"></div>
<div style="left:1755.75px;top:526px;width:1px;height:386px;background:#ececec;"></div>
<div style="left:1807px;top:526px;width:1px;height:386px;background:#ececec;"></div>
<div style="left:1858.25px;top:526px;width:1px;height:386px;background:#ececec;"></div>
<div style="left:1237px;top:525px;width:658px;height:1px;background:#cbcbcb;"></div>
<div style="left:1397px;top:507px;width:1px;height:441px;background:#cbcbcb;"></div>
<div style="left:1894px;top:507px;width:1px;height:441px;background:#cbcbcb;"></div>
<div style="left:1237px;top:905px;width:658px;height:1px;background:#cbcbcb;"></div>
<div style="left:1398px;top:530px;width:250px;height:32px;background:#f5dd96;"></div>
<div style="left:1398px;top:541px;width:153px;height:10px;background:#cf6516;"></div>
<span class="t" style="left:1292.50px;top:539.10px;font-size:15px;color:#7e7e7e;transform:scaleX(0.9894);">Google Search</span>
<span class="t" style="left:1554.80px;top:537.88px;font-size:15.5px;color:#333;transform:scaleX(1.0200);">30</span>
<div style="left:1398px;top:572px;width:445px;height:32px;background:#f5dd96;"></div>
<div style="left:1398px;top:583px;width:107px;height:10px;background:#cf6516;"></div>
<span class="t" style="left:1344.50px;top:581.10px;font-size:15px;color:#7e7e7e;transform:scaleX(1.0244);">Indeed</span>
<span class="t" style="left:1508.80px;top:579.88px;font-size:15.5px;color:#333;transform:scaleX(1.0200);">21</span>
<div style="left:1398px;top:615px;width:388px;height:32px;background:#f5dd96;"></div>
<div style="left:1398px;top:626px;width:91px;height:10px;background:#cf6516;"></div>
<span class="t" style="left:1332.50px;top:624.10px;font-size:15px;color:#7e7e7e;transform:scaleX(1.0403);">LinkedIn</span>
<span class="t" style="left:1492.80px;top:622.88px;font-size:15.5px;color:#333;transform:scaleX(1.0200);">18</span>
<div style="left:1398px;top:657px;width:148px;height:32px;background:#f5dd96;"></div>
<div style="left:1398px;top:668px;width:81px;height:10px;background:#cf6516;"></div>
<span class="t" style="left:1269.00px;top:666.10px;font-size:15px;color:#7e7e7e;transform:scaleX(1.0573);">Diversity Job Fair</span>
<span class="t" style="left:1482.80px;top:664.88px;font-size:15.5px;color:#333;transform:scaleX(1.0200);">16</span>
<div style="left:1398px;top:699px;width:117px;height:32px;background:#f5dd96;"></div>
<div style="left:1398px;top:710px;width:55px;height:10px;background:#cf6516;"></div>
<span class="t" style="left:1294.50px;top:708.10px;font-size:15px;color:#7e7e7e;transform:scaleX(1.0482);">CareerBuilder</span>
<span class="t" style="left:1456.80px;top:706.88px;font-size:15.5px;color:#333;transform:scaleX(1.0200);">11</span>
<div style="left:1398px;top:741px;width:158px;height:32px;background:#f5dd96;"></div>
<div style="left:1398px;top:752px;width:25px;height:10px;background:#cf6516;"></div>
<span class="t" style="left:1262.50px;top:750.10px;font-size:15px;color:#7e7e7e;transform:scaleX(1.0385);">Employee Referral</span>
<span class="t" style="left:1426.80px;top:748.88px;font-size:15.5px;color:#333;transform:scaleX(1.0200);">5</span>
<div style="left:1398px;top:783px;width:4px;height:32px;background:#f5dd96;"></div>
<div style="left:1398px;top:794px;width:4px;height:10px;background:#cf6516;"></div>
<span class="t" style="left:1306.50px;top:782.30px;font-size:15px;color:#7e7e7e;transform:scaleX(1.0196);">On-line Web</span>
<span class="t" style="left:1313.00px;top:802.80px;font-size:15px;color:#7e7e7e;transform:scaleX(1.0600);letter-spacing:0.234px;">application</span>
<span class="t" style="left:1405.80px;top:790.88px;font-size:15.5px;color:#333;transform:scaleX(1.0200);">1</span>
<div style="left:1398px;top:826px;width:9px;height:32px;background:#f5dd96;"></div>
<div style="left:1398px;top:837px;width:4px;height:10px;background:#cf6516;"></div>
<span class="t" style="left:1351.50px;top:835.10px;font-size:15px;color:#7e7e7e;transform:scaleX(1.0600);letter-spacing:0.055px;">Other</span>
<span class="t" style="left:1405.80px;top:833.88px;font-size:15.5px;color:#333;transform:scaleX(1.0200);">1</span>
<div style="left:1398px;top:868px;width:66px;height:32px;background:#f5dd96;"></div>
<div style="left:1398px;top:879px;width:4px;height:10px;background:#cf6516;"></div>
<span class="t" style="left:1334.00px;top:877.10px;font-size:15px;color:#7e7e7e;transform:scaleX(1.0600);letter-spacing:0.010px;">Website</span>
<span class="t" style="left:1405.80px;top:875.88px;font-size:15.5px;color:#333;transform:scaleX(1.0200);">1</span>
<span class="t" style="left:1400.00px;top:915.30px;font-size:15px;color:#8a8a8a;transform:scaleX(1.0200);">0</span>
<span class="t" style="left:1439.44px;top:915.30px;font-size:15px;color:#8a8a8a;transform:scaleX(1.0200);">10</span>
<span class="t" style="left:1490.69px;top:915.30px;font-size:15px;color:#8a8a8a;transform:scaleX(1.0200);">20</span>
<span class="t" style="left:1541.94px;top:915.30px;font-size:15px;color:#8a8a8a;transform:scaleX(1.0200);">30</span>
<span class="t" style="left:1593.19px;top:915.30px;font-size:15px;color:#8a8a8a;transform:scaleX(1.0200);">40</span>
<span class="t" style="left:1644.44px;top:915.30px;font-size:15px;color:#8a8a8a;transform:scaleX(1.0200);">50</span>
<span class="t" style="left:1695.69px;top:915.30px;font-size:15px;color:#8a8a8a;transform:scaleX(1.0200);">60</span>
<span class="t" style="left:1746.94px;top:915.30px;font-size:15px;color:#8a8a8a;transform:scaleX(1.0200);">70</span>
<span class="t" style="left:1798.19px;top:915.30px;font-size:15px;color:#8a8a8a;transform:scaleX(1.0200);">80</span>
<span class="t" style="left:1849.44px;top:915.30px;font-size:15px;color:#8a8a8a;transform:scaleX(1.0200);">90</span>
<div style="left:1717px;top:836px;width:14px;height:14px;background:#f5dd96;"></div>
<div style="left:1717px;top:857px;width:14px;height:14px;background:#cf6516;"></div>
<span class="t" style="left:1736.50px;top:836.30px;font-size:15px;color:#555;transform:scaleX(1.0259);">All Employees</span>
<span class="t" style="left:1736.50px;top:857.30px;font-size:15px;color:#555;transform:scaleX(1.0600);letter-spacing:0.494px;">Total Attrition</span>
<svg style="left:3.8px;top:5.7px;" width="18.3" height="18.3" viewBox="0 0 18.3 18.3"><rect x="1" y="1" width="16.3" height="16.3" fill="#b4bac0"/><rect x="0" y="0" width="16.3" height="16.3" fill="#f1f1f1"/><path d="M5.0 7.8h5.4M7.7 5.1v5.4" stroke="#4f86c6" stroke-width="1.0" fill="none"/><path d="M2.6 4.5h3.8M4.5 2.6v3.8" stroke="#4f86c6" stroke-width="0.9" fill="none"/><path d="M9.299999999999999 4.5h3.8M11.2 2.6v3.8" stroke="#4f86c6" stroke-width="0.9" fill="none"/><path d="M2.6 11.0h3.8M4.5 9.1v3.8" stroke="#4f86c6" stroke-width="0.9" fill="none"/><path d="M9.299999999999999 11.8h3.8M11.2 9.9v3.8" stroke="#4f86c6" stroke-width="0.9" fill="none"/><path d="M6.4 1.7h2.6M7.7 0.3999999999999999v2.6" stroke="#4f86c6" stroke-width="0.8" fill="none"/><path d="M0.3999999999999999 7.8h2.6M1.7 6.5v2.6" stroke="#4f86c6" stroke-width="0.8" fill="none"/><path d="M12.399999999999999 7.8h2.6M13.7 6.5v2.6" stroke="#4f86c6" stroke-width="0.8" fill="none"/><path d="M6.4 13.8h2.6M7.7 12.5v2.6" stroke="#4f86c6" stroke-width="0.8" fill="none"/></svg>
<svg style="left:50px;top:160px;" width="112" height="118" viewBox="0 0 112 118"><rect x="41" y="6" width="65.7" height="108" rx="2" fill="#dff4ff"/><rect x="100" y="6" width="6.7" height="108" rx="1.5" fill="#c9ecff"/><path d="M41 7.2 L81.7 19.4 L81.7 114 L43 114 Q41 114 41 112 Z" fill="#8ecaff"/><path d="M41 6.2 L80 17.6 Q81.7 18.2 81.7 20 L81.7 114 L75.9 114 L75.9 19.8 L41 9 Z" fill="#66b1ff"/><path d="M17.6 46 v-7.4 q0-2 2-2 h10.6 q2 0 2 2 v7.4" fill="none" stroke="#6a7fb0" stroke-width="2.4"/><rect x="4.1" y="45.8" width="41.8" height="29" rx="2.5" fill="#c68c76"/><path d="M39.4 45.8 h4 q2.5 0 2.5 2.5 v24 q0 2.5 -2.5 2.5 h-4 z" fill="#b9785f"/><rect x="4.1" y="54.1" width="41.8" height="3.4" fill="#a8623f"/><rect x="13.3" y="58.3" width="3.4" height="4.2" rx="1" fill="#e8fbff"/><rect x="33.5" y="58.3" width="3.4" height="4.2" rx="1" fill="#e8fbff"/><path d="M56.5 56.9 h33 v-5 l9 8.5 l-9 8.3 v-4.8 h-33 a3.5 3.5 0 0 1 0 -7 z" fill="#f2777f"/></svg>
<svg style="left:55px;top:340px;" width="118" height="100" viewBox="0 0 118 100"><path d="M39.8 23 Q58 10 83.6 25.6 L81.6 42.9 L64.3 35.8 L70 32.5 Q56 21.5 39.8 23 Z" fill="#fbbf3b"/><path d="M68.4 83.6 Q50 96 24.5 77 L28.1 60.2 L44.9 68.2 L40 71 Q52 84.5 68.4 83.6 Z" fill="#fbbf3b"/><path d="M5.7 57.7 v-10 q0.5-8 8-10 l9-2.6 h9.6 l9 2.6 q8 2 8.5 10 v10 z" fill="#f2645a"/><path d="M23.5 28 h9 v7 q-4.5 5 -9 0 z" fill="#f9d27f"/><ellipse cx="28.1" cy="22.5" rx="8.6" ry="10.2" fill="#f9d27f"/><path d="M19 27 Q15 17 18.5 10.5 Q22 4.5 29 5 Q34 4.5 37 8 Q40.5 11 39.3 17 L37.5 26 Q37.5 17 35 14.5 Q29 16.5 21.5 14.5 Q19.5 19 19.7 26.5 Z" fill="#b97a4f"/><path d="M22.5 34.5 l5.5 4 l5.5 -4 l1.2 7.5 l-6.7 -2.5 l-6.7 2.5 z" fill="#d93a32"/><path d="M28 39.5 l3 3.5 l2 14.7 h-9.5 l2 -14.7 z" fill="#7c9fd8"/><circle cx="28" cy="41" r="2.2" fill="#6a6fd0"/><circle cx="39" cy="50.5" r="1.4" fill="#f5a8a8"/><circle cx="41.8" cy="54.5" r="2.1" fill="#f5a8a8"/><ellipse cx="90.2" cy="56.4" rx="11.8" ry="12.7" fill="#8b8d97"/><path d="M84.5 66 h11 v8 h-11 z" fill="#f9d27f"/><ellipse cx="89.6" cy="59" rx="7.2" ry="9.8" fill="#f9d27f"/><path d="M85 50.5 Q91 46.5 94.5 51 Q94 59 98.5 63.5 Q102 60 101.5 52 Q97 43 88 44.5 Q84 46 85 50.5 Z" fill="#8b8d97"/><path d="M70.2 94.3 v-11 q0.5-6 6-7.5 l8.3-3.3 h11 l8.3 3.3 q5.8 1.5 6.3 7.5 v11 z" fill="#6f6fd0"/><path d="M84.5 72.5 h11.2 l1.2 21.8 h-13.6 z" fill="#f7f7fb"/><circle cx="90.4" cy="78.3" r="1.5" fill="#ee4b4b"/><circle cx="90.4" cy="84.2" r="1.5" fill="#ee4b4b"/><circle cx="90.4" cy="90.2" r="1.5" fill="#ee4b4b"/><circle cx="79.2" cy="87" r="2.2" fill="#9fb8e8"/></svg>
<svg style="left:19px;top:1044px;" width="23" height="22" viewBox="0 0 23 22"><path d="M0.7 3.6 L9.3 2.4 V10.2 H0.7 Z M10.4 2.2 L21.3 0.7 V10.2 H10.4 Z M0.7 11.3 H9.3 V19.2 L0.7 18 Z M10.4 11.3 H21.3 V20.8 L10.4 19.3 Z" fill="#fff"/></svg>
<svg style="left:73px;top:1043px;" width="24" height="24" viewBox="0 0 24 24"><circle cx="15.2" cy="9.2" r="6.2" fill="none" stroke="#f0f0f0" stroke-width="1.5"/><path d="M10.8 13.6 L2.6 21.4" stroke="#f0f0f0" stroke-width="1.6"/></svg>
<svg style="left:320px;top:1030px;" width="100" height="50" viewBox="0 0 100 50"><path d="M14 32 H100 V50 H2 Z" fill="#e4ba8b"/><path d="M2 50 L14 32 H100 V35 H16 L5 50Z" fill="#f0cda3"/><path d="M19 22 L37 13 L49 17 L53 34 L37 40 L23 42 Z" fill="#3fa34d"/><path d="M17 20 L35 12 L40 32 L22 40 Z" fill="#f4f4ef"/><path d="M35 12 L47 16 L51 32 L40 32 Z" fill="#e8e8e2"/><path d="M22 24 l10 -4 M23 28 l10 -4 M24 32 l10 -4 M39 19 l7 2 M40 23 l7 2 M41 27 l7 2" stroke="#b9b9b2" stroke-width="0.8"/><path d="M39 26 L50 11 L54 14 L43 28 L38 30 Z" fill="#f6b73c"/><path d="M50 11 L52.5 8 Q54 7 55.5 8.5 Q57 10 56 11.5 L54 14 Z" fill="#f0635a"/><path d="M38 30 l1 -4 l3 2.4z" fill="#f3d9a8"/><path d="M68 10 q0 -6 6 -6 h0 q6 0 6 6" fill="none" stroke="#1a6fd0" stroke-width="2.2"/><rect x="61.5" y="8" width="25.5" height="34" rx="9" fill="#2f8be8"/><path d="M62 20 q12.5 -9 24.5 0 v4 q-12 -8 -24.5 0z" fill="#1f74d4"/><rect x="64.5" y="27" width="19.5" height="14" rx="5" fill="#2279dc"/><path d="M65 38.5 h18.5" stroke="#c878d8" stroke-width="1.6"/><ellipse cx="71" cy="17" rx="4" ry="2.5" fill="#62b0f5" opacity=".7"/></svg>
<svg style="left:438px;top:1043px;" width="24" height="23" viewBox="0 0 24 23"><path d="M2 2.5v3 M2 5.2h13.5 M15.5 2.5v3 M2.8 8.5h12v7.5h-12z M2 20.5v-3 M2 17.8h13.5 M15.5 20.5v-3 M21 2.5v5 M21 15v5.5" fill="none" stroke="#fff" stroke-width="1.3"/><rect x="19.6" y="9" width="2.8" height="4.2" fill="#fff"/></svg>
<svg style="left:498px;top:1040px;" width="33" height="30" viewBox="0 0 33 30"><path d="M1 12 L16.5 1 L32 12 Z" fill="#0f59bd"/><path d="M5 9 H28 V20 H5 Z" fill="#fff"/><path d="M5 9 H28 L16.5 17 Z" fill="#e3e9f2"/><path d="M1 12 L16.5 22.5 L32 12 V29 H1 Z" fill="#1f8fe6"/><path d="M1 29 L16.5 18.5 L32 29 Z" fill="#39a5f2"/></svg>
<svg style="left:559px;top:1038px;" width="34" height="34" viewBox="0 0 34 34"><defs><linearGradient id="eg1" x1="0" y1="0" x2="1" y2="1"><stop offset="0" stop-color="#35c1f1"/><stop offset="1" stop-color="#1166c4"/></linearGradient><linearGradient id="eg2" x1="0" y1="1" x2="1" y2="0"><stop offset="0" stop-color="#2fb8e4"/><stop offset="1" stop-color="#5fd34f"/></linearGradient></defs><circle cx="16.8" cy="16.7" r="15" fill="url(#eg1)"/><path d="M2.5 13 Q6 1.7 17.5 1.7 Q30 2.5 31.8 14 Q32 22 25 22.5 Q21 22.5 22.5 18.5 Q24 13.5 17 12 Q8 11 2.5 13Z" fill="url(#eg2)"/><path d="M10 20 Q10 14 17 13 Q13 18 16 23 Q20 29 28.5 25 Q24 32 16 31 Q9 28 10 20Z" fill="#0c4aa6"/><path d="M17.5 13 Q24 13 23 18.5 Q21.5 22.5 25 22.5 Q20 26 16.5 21.5 Q14 17 17.5 13Z" fill="#1f3232"/></svg>
<svg style="left:623px;top:1042px;" width="30" height="25" viewBox="0 0 30 25"><path d="M1 3 Q1 1.3 2.7 1.3 H11 L14 4.2 H27 Q28.7 4.2 28.7 6 V8 H1 Z" fill="#e8a51e"/><rect x="1" y="5.8" width="27.7" height="17.8" rx="1.5" fill="#fbd465"/><path d="M7 23.6 V15.5 Q7 14 8.5 14 H21.2 Q22.7 14 22.7 15.5 V23.6 H19 V19.3 H10.7 V23.6 Z" fill="#2f8ae0"/><rect x="7" y="14" width="15.7" height="2.6" fill="#5fb0f5"/></svg>
<svg style="left:683px;top:1039px;" width="33" height="32" viewBox="0 0 33 32"><path d="M9.5 9 V5.5 Q9.5 3 12 3 H20.5 Q23 3 23 5.5 V9" fill="none" stroke="#2a9df4" stroke-width="2"/><path d="M1.8 8.5 H31 V27 Q31 30.5 27.5 30.5 H5.3 Q1.8 30.5 1.8 27 Z" fill="#f3f3f3"/><rect x="11" y="13" width="4.8" height="4.8" fill="#f25022"/><rect x="17" y="13" width="4.8" height="4.8" fill="#7fba00"/><rect x="11" y="19" width="4.8" height="4.8" fill="#00a4ef"/><rect x="17" y="19" width="4.8" height="4.8" fill="#ffb900"/></svg>
<div style="left:737.5px;top:1077.5px;width:50.5px;height:2.5px;background:#8fc6ee;"></div>
<svg style="left:746px;top:1039px;" width="32" height="32" viewBox="0 0 32 32"><circle cx="16" cy="15.7" r="15" fill="#e33b2e"/><path d="M16 15.7 L3 8.2 A15 15 0 0 0 13.3 30.5 L21 21Z" fill="#2da94f"/><path d="M16 15.7 L13.3 30.5 A15 15 0 0 0 29 8.2 L16 8.2Z" fill="#fcc31e"/><path d="M3 8.2 A15 15 0 0 1 29 8.2 L16 8.2 Z" fill="#e33b2e"/><circle cx="16" cy="15.7" r="7.3" fill="#fff"/><circle cx="16" cy="15.7" r="5.8" fill="#3f8cf4"/></svg>
<div style="left:794px;top:1030px;width:61px;height:50px;background:#4a5a5a;"></div>
<div style="left:794.5px;top:1077.5px;width:60.5px;height:2.5px;background:#8fc6ee;"></div>
<svg style="left:809.5px;top:1040.3px;" width="29.5" height="29.5" viewBox="0 0 29.5 29.5"><rect x="0" y="0" width="27.5" height="27.5" fill="#f6f6f6"/><path d="M8.43 13.16h9.12M12.99 8.600000000000001v9.12" stroke="#4f86c6" stroke-width="1.69" fill="none"/><path d="M4.38 7.59h6.42M7.59 4.38v6.42" stroke="#4f86c6" stroke-width="1.52" fill="none"/><path d="M15.689999999999998 7.59h6.42M18.9 4.38v6.42" stroke="#4f86c6" stroke-width="1.52" fill="none"/><path d="M4.38 18.56h6.42M7.59 15.349999999999998v6.42" stroke="#4f86c6" stroke-width="1.52" fill="none"/><path d="M15.689999999999998 19.91h6.42M18.9 16.7v6.42" stroke="#4f86c6" stroke-width="1.52" fill="none"/><path d="M10.8 2.87h4.38M12.99 0.6800000000000002v4.38" stroke="#4f86c6" stroke-width="1.35" fill="none"/><path d="M0.6800000000000002 13.16h4.38M2.87 10.97v4.38" stroke="#4f86c6" stroke-width="1.35" fill="none"/><path d="M20.919999999999998 13.16h4.38M23.11 10.97v4.38" stroke="#4f86c6" stroke-width="1.35" fill="none"/><path d="M10.8 23.28h4.38M12.99 21.09v4.38" stroke="#4f86c6" stroke-width="1.35" fill="none"/></svg>
<svg style="left:1392px;top:1038px;" width="36" height="32" viewBox="0 0 36 32"><path d="M8 20 Q8 30 18 30.5 Q26 30 28 24 Q20 28 14 22 Q11 19 12 14 Q8 16 8 20Z" fill="#f59a23"/><path d="M3 14.5 Q1.5 9.5 6.5 8.5 Q8 3.5 13 4.5 Q17 2 20 6 Q25 6.5 24 11.5 Q24 14.5 21 14.5 Z" fill="#dfeefb"/><path d="M14 29.5 Q11.5 24.5 16.5 23.5 Q18 19.5 22.5 20.5 Q26 18.5 28.5 22 Q33 22.5 32.5 26.5 Q32 29.5 29 29.5 Z" fill="#cfe4f7"/><circle cx="24.6" cy="9.4" r="6.8" fill="#e0302a"/></svg>
<span class="t" style="left:1414.50px;top:1041.99px;font-size:11px;color:#fff;font-weight:bold;">1</span>
<span class="t" style="left:1482px;top:1046px;font-size:17px;color:#f2f2f2;direction:rtl;">غائم جزئيًا</span>
<svg style="left:1581px;top:1048px;" width="19" height="13" viewBox="0 0 19 13"><path d="M1.5 11 L9.2 2.5 L17 11" fill="none" stroke="#f2f2f2" stroke-width="1.4"/></svg>
<svg style="left:1612px;top:1044px;" width="18" height="22" viewBox="0 0 18 22"><rect x="2" y="6" width="9.5" height="10" rx="2" fill="none" stroke="#f2f2f2" stroke-width="1.2"/><path d="M11.5 10 L15.5 7.5 V14.5 L11.5 12" fill="none" stroke="#f2f2f2" stroke-width="1.2"/><path d="M3.5 3 Q7 0.8 10.5 3 M3.5 19 Q7 21.2 10.5 19" fill="none" stroke="#f2f2f2" stroke-width="1.1"/></svg>
<svg style="left:1639px;top:1047px;" width="23" height="16" viewBox="0 0 23 16"><rect x="4.5" y="4" width="15" height="9" fill="#f2f2f2" stroke="#f2f2f2" stroke-width="1"/><rect x="20.2" y="6.5" width="1.6" height="4" fill="#f2f2f2"/><path d="M2.5 1 v3 M5 1 v3 M1.5 4 h4.5 v2.5 q-2.2 2 -4.5 0z M3.7 8 v4" stroke="#f2f2f2" stroke-width="1" fill="#1f3232"/></svg>
<svg style="left:1671px;top:1046px;" width="20" height="19" viewBox="0 0 20 19"><path d="M2 17 A15 15 0 0 1 16.5 2.5" fill="none" stroke="#f2f2f2" stroke-width="1.3"/><path d="M6 17 A11 11 0 0 1 16.5 6.5" fill="none" stroke="#f2f2f2" stroke-width="1.3"/><path d="M10 17 A7 7 0 0 1 16.5 10.5" fill="none" stroke="#f2f2f2" stroke-width="1.3"/><circle cx="15.8" cy="16" r="1.5" fill="#f2f2f2"/></svg>
<svg style="left:1699px;top:1045px;" width="23" height="21" viewBox="0 0 23 21"><path d="M1.5 7.5 H5 L9.5 3 V18 L5 13.5 H1.5 Z" fill="none" stroke="#f2f2f2" stroke-width="1.2"/><path d="M12.5 7.5 Q14.8 10.5 12.5 13.5 M15.5 5 Q19.5 10.5 15.5 16 M18.5 2.5 Q24 10.5 18.5 18.5" fill="none" stroke="#f2f2f2" stroke-width="1.2"/></svg>
<svg style="left:1867px;top:1044px;" width="34" height="33" viewBox="0 0 34 33"><path d="M2 1.5 H22.5 V18.5 H9 L5 22.5 V18.5 H2 Z" fill="#f4f4f4"/><path d="M5.5 6 h13.5 M5.5 9.5 h13.5 M5.5 13 h13.5" stroke="#1f3232" stroke-width="1.1"/><circle cx="21.4" cy="21.2" r="9.6" fill="#2a3b3b" stroke="#5d6b6b" stroke-width="1"/></svg>
<span class="t" style="left:1884.30px;top:1058.60px;font-size:15px;color:#fff;font-weight:bold;">7</span>
<svg style="left:830px;top:935px;" width="260" height="95" viewBox="0 0 260 95"><g opacity="0.44" fill="none" stroke="#b2b2b2" stroke-width="10.5" stroke-linecap="round" stroke-linejoin="round"><path d="M53.8 23.5 V62 Q53.8 78.5 37 78.5 Q20.5 78.5 20.5 60 V57"/><path d="M53.8 62 Q54 70 62 70 H208"/><path d="M76 66 A15 15 0 1 1 106 56 V66"/><path d="M128 56 V68 M150 56 V68 M172 56 V68 M194 56 V68"/><circle cx="223.5" cy="63" r="15.5"/></g><g opacity="0.44" fill="#b2b2b2"><circle cx="83.3" cy="23.3" r="6.5"/><circle cx="100" cy="23.3" r="6.5"/><circle cx="124" cy="37.5" r="6.2"/><circle cx="140.3" cy="37.5" r="6.2"/></g></svg>
<span class="t" style="left:843.00px;top:1018.38px;font-size:37px;color:rgba(178,178,178,0.44);transform:scaleX(1.0210);font-weight:bold;">mostaql.com</span>
</div></body></html>
